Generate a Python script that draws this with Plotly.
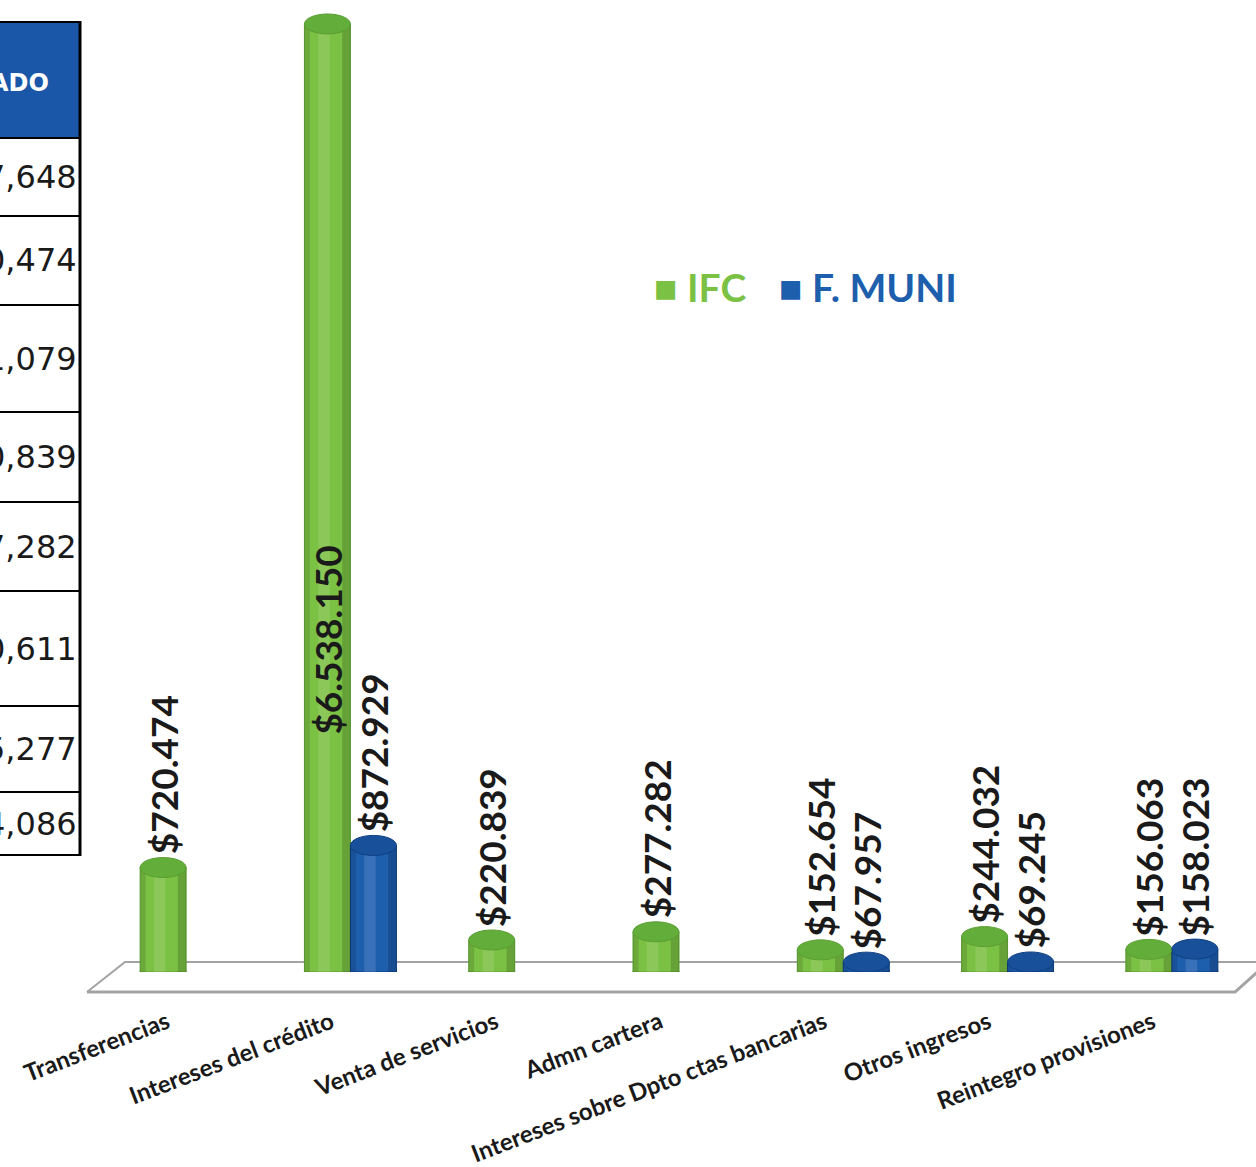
import plotly.graph_objects as go

# ---------------- data ----------------
categories = ["Transferencias", "Intereses del crédito", "Venta de servicios",
              "Admn cartera", "Intereses sobre Dpto ctas bancarias",
              "Otros ingresos", "Reintegro provisiones"]
ifc = [720474, 6538150, 220839, 277282, 152654, 244032, 156063]
fmuni = [None, 872929, None, None, 67957, 69245, 158023]

series_names = ["IFC", "F. MUNI"]

table_header = "ADO"
table_cells = ["7,648", "0,474", "1,079", "0,839", "7,282", "0,611", "5,277", "4,086"]

# ---------------- styles ----------------
GREEN = "#7BC143"
GREEN_DARK = "#5A9E33"
GREEN_TOP = "#63AD3A"
BLUE = "#1D5EAD"
BLUE_DARK = "#0F3F82"
BLUE_TOP = "#18519A"
TABLE_BLUE = "#1A57A8"

W, H = 1256, 1167
ML, MR, MT, MB = 104, 2, 10, 195
PW, PH = W - ML - MR, H - MT - MB
YMAX = PH / 145.0 * 1e6
BW = 0.28


def pxx(x):
    return (x - ML) / PW


def pxy(y):
    return (H - MB - y) / PH


def fmt(v):
    return "$" + f"{v:,}".replace(",", ".")


fig = go.Figure()
series = [(ifc, GREEN, GREEN_DARK, GREEN_TOP, -BW), (fmuni, BLUE, BLUE_DARK, BLUE_TOP, 0.0)]
for name, (vals, col, dark, top, off) in zip(series_names, series):
    fig.add_trace(go.Bar(
        x=list(range(len(categories))), y=vals, name=name,
        width=BW, offset=off,
        marker=dict(color=col, line=dict(color=dark, width=1)),
        hoverinfo="y", showlegend=False,
    ))

shapes = []
annotations = []

# floor (decorative parallelogram)
floor_back = f"M {pxx(87)},{pxy(992)} L {pxx(125)},{pxy(962)} L {pxx(1262)},{pxy(962)}"
floor_front = f"M {pxx(87)},{pxy(992)} L {pxx(1235)},{pxy(992)} L {pxx(1262)},{pxy(968)}"
for p, w in [(floor_back, 2), (floor_front, 3)]:
    shapes.append(dict(type="path", xref="paper", yref="paper", path=p,
                       line=dict(color="#A3A3A3", width=w), layer="below"))

# cylinder decorations
for vals, col, dark, top, off in series:
    for i, v in enumerate(vals):
        if v is None:
            continue
        x0 = i + off
        x1 = x0 + BW
        shapes.append(dict(type="circle", xref="x", yref="y", x0=x0, x1=x1,
                           ysizemode="pixel", yanchor=0, y0=-10, y1=10,
                           fillcolor=col, line=dict(color=dark, width=1), layer="below"))
        shapes.append(dict(type="rect", xref="x", yref="y", x0=x0, x1=x0 + BW * 0.12,
                           y0=0, y1=v, fillcolor="black", opacity=0.12, line=dict(width=0)))
        shapes.append(dict(type="rect", xref="x", yref="y", x0=x0 + BW * 0.3, x1=x0 + BW * 0.55,
                           y0=0, y1=v, fillcolor="white", opacity=0.12, line=dict(width=0)))
        shapes.append(dict(type="rect", xref="x", yref="y", x0=x0 + BW * 0.82, x1=x1,
                           y0=0, y1=v, fillcolor="black", opacity=0.16, line=dict(width=0)))
        shapes.append(dict(type="circle", xref="x", yref="y", x0=x0, x1=x1,
                           ysizemode="pixel", yanchor=v, y0=-10, y1=10,
                           fillcolor=top, line=dict(color=dark, width=1)))
        if v > 0.5 * YMAX:
            annotations.append(dict(x=x0 + BW / 2, y=v * 0.35, xref="x", yref="y",
                                    text=fmt(v), textangle=-90, showarrow=False,
                                    yanchor="middle", xanchor="center",
                                    font=dict(family="Lato", size=37, color="#1A1A1A", weight="bold")))
        else:
            annotations.append(dict(x=x0 + BW / 2, y=v, xref="x", yref="y",
                                    text=fmt(v), textangle=-90, showarrow=False,
                                    yanchor="bottom", xanchor="center", yshift=11,
                                    font=dict(family="Lato", size=37, color="#1A1A1A", weight="bold")))

# legend as text
annotations.append(dict(xref="paper", yref="paper", x=pxx(652), y=pxy(287), xanchor="left",
                        yanchor="middle", showarrow=False,
                        text=f"<span style='color:{GREEN}'>■ {series_names[0]}</span>",
                        font=dict(family="Lato", size=39, color=GREEN, weight="bold")))
annotations.append(dict(xref="paper", yref="paper", x=pxx(777), y=pxy(287), xanchor="left",
                        yanchor="middle", showarrow=False,
                        text=f"<span style='color:{BLUE}'>■ {series_names[1]}</span>",
                        font=dict(family="Lato", size=39, color=BLUE, weight="bold")))

# partial table on the left
row_lines = [138, 216, 305, 412, 502, 591, 706, 792, 855]
shapes.append(dict(type="rect", xref="paper", yref="paper", x0=pxx(-20), x1=pxx(80),
                   y0=pxy(22), y1=pxy(138), fillcolor=TABLE_BLUE,
                   line=dict(color="black", width=2)))
for yl in row_lines:
    shapes.append(dict(type="line", xref="paper", yref="paper", x0=pxx(-20), x1=pxx(80),
                       y0=pxy(yl), y1=pxy(yl), line=dict(color="black", width=2)))
shapes.append(dict(type="line", xref="paper", yref="paper", x0=pxx(80), x1=pxx(80),
                   y0=pxy(21), y1=pxy(856), line=dict(color="black", width=3)))
annotations.append(dict(xref="paper", yref="paper", x=pxx(51), y=pxy(83), xanchor="right",
                        yanchor="middle", showarrow=False, text=table_header,
                        font=dict(family="DejaVu Sans", size=24, color="white", weight="bold")))
for k, txt in enumerate(table_cells):
    yc = (row_lines[k] + row_lines[k + 1]) / 2
    annotations.append(dict(xref="paper", yref="paper", x=pxx(79), y=pxy(yc), xanchor="right",
                            yanchor="middle", showarrow=False, text=txt,
                            font=dict(family="DejaVu Sans", size=32, color="#1A1A1A")))

fig.update_layout(
    width=W, height=H, autosize=False,
    margin=dict(l=ML, r=MR, t=MT, b=MB),
    paper_bgcolor="white", plot_bgcolor="white",
    shapes=shapes, annotations=annotations,
    xaxis=dict(type="linear", range=[-0.5, 6.5], tickmode="array",
               tickvals=list(range(len(categories))), ticktext=categories,
               tickangle=-21, showgrid=False, zeroline=False, showline=False,
               automargin=False,
               ticks="", ticklabelstandoff=31, ticklabelshift=-19,
               tickfont=dict(family="Lato", size=24, color="#1A1A1A", weight="bold")),
    yaxis=dict(range=[0, YMAX], visible=False, showgrid=False, zeroline=False,
               automargin=False),
)

post = (
    "document.documentElement.style.margin='0px';"
    "document.body.style.margin='0px';"
)
fig.write_html("out.html", config={"displayModeBar": False}, post_script=post)
